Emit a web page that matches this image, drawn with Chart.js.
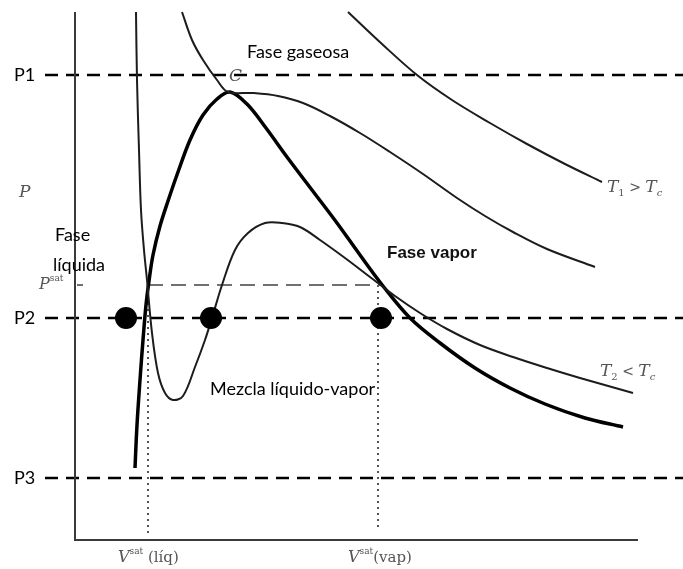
<!DOCTYPE html>
<html>
<head>
<meta charset="utf-8">
<script src="https://cdn.jsdelivr.net/npm/chart.js@4"></script>
<style>
  html, body { margin: 0; padding: 0; background: #fff; }
  #wrap { width: 683px; height: 569px; position: relative; }
</style>
</head>
<body>
<div id="wrap"><canvas id="grafico"></canvas></div>
<script>
// V y P en unidades arbitrarias, origen en la esquina de los ejes
const isotermaT1 = [
  [273, 528], [307, 496], [342, 465], [377, 440], [415, 417],
  [452, 396], [490, 376], [527, 358]
];

const isotermaTc = [
  [107, 528], [117, 500], [128, 480], [142, 460], [153, 448],
  [178, 447], [203, 444], [228, 437], [255, 424], [285, 407], [315, 388],
  [348, 366], [382, 342], [410, 324], [438, 308], [472, 291], [520, 273]
];

const isotermaT2 = [
  [61, 528], [62, 460], [64, 390], [66, 330], [69, 290], [72, 260],
  [77, 207], [83, 167], [90, 147], [98, 140], [108, 144], [120, 173],
  [130, 200], [137, 222], [147, 255], [160, 290], [173, 307], [190, 317],
  [207, 317], [225, 313], [245, 300], [270, 282], [295, 263], [320, 244],
  [345, 227], [372, 211], [405, 195], [438, 183], [472, 172], [505, 162],
  [558, 147]
];

const curvaSaturacion = [
  [60, 72], [62, 115], [65, 160], [68, 200], [71, 235], [74, 259],
  [78, 285], [85, 314], [93, 339], [103, 368], [115, 400], [128, 425],
  [142, 441], [155, 448], [172, 436], [191, 412], [212, 383], [237, 350],
  [262, 317], [285, 285], [308, 254], [335, 222], [365, 197], [400, 172],
  [435, 152], [470, 136], [510, 122], [548, 113]
];

const P1 = 465;
const P2 = 222;
const P3 = 62;
const Psat = 255;
const VsatLiq = 73;
const VsatVap = 303;
const puntosP2 = [51, 136, 306];

const toXY = arr => arr.map(p => ({ x: p[0], y: p[1] }));

function curva(datos, ancho, color) {
  return {
    data: toXY(datos),
    showLine: true,
    borderColor: color,
    borderWidth: ancho,
    pointRadius: 0,
    tension: 0.35,
    order: 2
  };
}

function recta(a, b, ancho, color, dash) {
  return {
    data: [{ x: a[0], y: a[1] }, { x: b[0], y: b[1] }],
    showLine: true,
    borderColor: color,
    borderWidth: ancho,
    borderDash: dash || [],
    pointRadius: 0,
    order: 3
  };
}

const datasets = [
  {
    data: puntosP2.map(v => ({ x: v, y: P2 })),
    showLine: false,
    pointRadius: 11,
    pointBackgroundColor: '#000',
    pointBorderWidth: 0,
    order: 0
  },
  curva(isotermaT1, 2, '#1c1c1c'),
  curva(isotermaTc, 2, '#1c1c1c'),
  curva(isotermaT2, 2, '#1c1c1c'),
  curva(curvaSaturacion, 3.5, '#000'),
  // ejes
  recta([0, -1], [0, 528], 2, '#3a3a3a'),
  recta([0, 0], [563, 0], 2, '#3a3a3a'),
  // presiones
  recta([-30, P1], [608, P1], 2.5, '#000', [13, 8]),
  recta([-30, P2], [608, P2], 2.5, '#000', [13, 8]),
  recta([-30, P3], [608, P3], 2.5, '#000', [13, 8]),
  recta([VsatLiq, Psat], [VsatVap + 5, Psat], 2, '#707070', [15, 8]),
  recta([2, Psat], [8, Psat], 2, '#707070'),
  recta([VsatLiq, Psat], [VsatLiq, 5], 2, '#555', [2, 4]),
  recta([VsatVap, Psat], [VsatVap, 10], 2, '#555', [2, 4])
];

const sans = { family: 'Lato', size: 18, color: '#000' };
const serif = { family: '"DejaVu Serif", "Liberation Serif", serif', size: 17, color: '#555' };

const etiquetas = [
  { V: -61, P: P1, base: sans, partes: [{ t: 'P1' }] },
  { V: -61, P: P2, base: sans, partes: [{ t: 'P2' }] },
  { V: -61, P: P3, base: sans, partes: [{ t: 'P3' }] },
  { V: 172, P: 488, base: sans, partes: [{ t: 'Fase gaseosa' }] },
  { V: -20, P: 305, base: sans, partes: [{ t: 'Fase' }] },
  { V: -22, P: 275, base: sans, partes: [{ t: 'líquida' }] },
  { V: 135, P: 151, base: sans, partes: [{ t: 'Mezcla líquido-vapor' }] },
  { V: 312, P: 287, base: { family: '"Liberation Sans", Arial', size: 17, color: '#111', bold: true }, partes: [{ t: 'Fase vapor' }] },
  { V: -56, P: 347, base: serif, partes: [{ t: 'P', italic: true }] },
  { V: -36, P: 255, base: serif, partes: [{ t: 'P', italic: true, size: 16 }, { t: 'sat', size: 9, dy: -6 }] },
  { V: 154, P: 463, base: serif, partes: [{ t: 'C', italic: true }] },
  { V: 532, P: 352, base: serif, partes: [{ t: 'T', italic: true }, { t: '1', size: 10, dy: 5 }, { t: ' > ', size: 14 }, { t: 'T', italic: true }, { t: 'c', italic: true, size: 10, dy: 5 }] },
  { V: 525, P: 168, base: serif, partes: [{ t: 'T', italic: true }, { t: '2', size: 10, dy: 5 }, { t: ' < ', size: 14 }, { t: 'T', italic: true }, { t: 'c', italic: true, size: 10, dy: 5 }] },
  { V: 43, P: -18, base: serif, partes: [{ t: 'V', italic: true, size: 16 }, { t: 'sat', size: 9, dy: -6 }, { t: ' (líq)', size: 15 }] },
  { V: 273, P: -18, base: serif, partes: [{ t: 'V', italic: true, size: 16 }, { t: 'sat', size: 9, dy: -6 }, { t: '(vap)', size: 15 }] }
];

const pluginEtiquetas = {
  id: 'etiquetas',
  afterDatasetsDraw(chart) {
    const ctx = chart.ctx;
    const sx = chart.scales.x;
    const sy = chart.scales.y;
    ctx.save();
    ctx.textBaseline = 'middle';
    ctx.textAlign = 'left';
    etiquetas.forEach(e => {
      let x = sx.getPixelForValue(e.V);
      const y = sy.getPixelForValue(e.P);
      e.partes.forEach(p => {
        const size = p.size || e.base.size;
        ctx.font = (p.italic ? 'italic ' : '') + (e.base.bold ? 'bold ' : '') + size + 'px ' + e.base.family;
        ctx.fillStyle = e.base.color;
        ctx.fillText(p.t, x, y + (p.dy || 0));
        x += ctx.measureText(p.t).width;
      });
    });
    ctx.restore();
  }
};

const fondoBlanco = {
  id: 'fondoBlanco',
  beforeDraw(chart) {
    const ctx = chart.ctx;
    ctx.save();
    ctx.fillStyle = '#fff';
    ctx.fillRect(0, 0, chart.width, chart.height);
    ctx.restore();
  }
};

new Chart(document.getElementById('grafico'), {
  type: 'scatter',
  data: { datasets: datasets },
  options: {
    responsive: true,
    maintainAspectRatio: false,
    animation: false,
    layout: { padding: 0, autoPadding: false },
    plugins: {
      legend: { display: false },
      tooltip: { enabled: false }
    },
    scales: {
      x: { type: 'linear', min: -75, max: 608, display: false },
      y: { type: 'linear', min: -29, max: 540, display: false }
    }
  },
  plugins: [fondoBlanco, pluginEtiquetas]
});
</script>
</body>
</html>
